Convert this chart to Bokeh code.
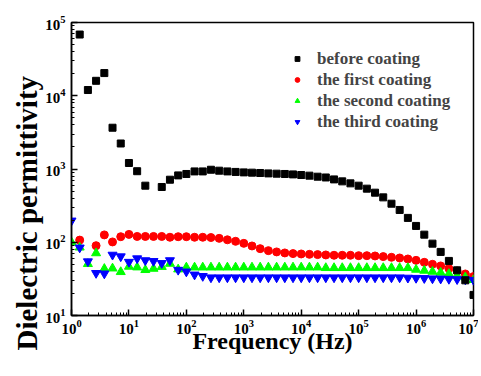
import math
from bokeh.plotting import figure
from bokeh.models import Legend, LegendItem, Title, ColumnDataSource
from bokeh.embed import file_html
from bokeh.resources import INLINE

nan = float("nan")

# Frequency (Hz), 7 points per decade
freq = [1, 1.39, 1.93, 2.68, 3.73, 5.18, 7.2,
        10, 13.9, 19.3, 26.8, 37.3, 51.8, 72,
        100, 139, 193, 268, 373, 518, 720,
        1000, 1390, 1930, 2680, 3730, 5180, 7200,
        1e4, 1.39e4, 1.93e4, 2.68e4, 3.73e4, 5.18e4, 7.2e4,
        1e5, 1.39e5, 1.93e5, 2.68e5, 3.73e5, 5.18e5, 7.2e5,
        1e6, 1.39e6, 1.93e6, 2.68e6, 3.73e6, 5.18e6, 7.2e6,
        1e7]

before_coating = [nan, 68500, 11970, 16000, 20400, 3660, 2230, 1208, 933, 592,
                  nan, 568, 714, 818, 855, 927, 927, 977, 948, 927,
                  912, 899, 891, 882, 871, 863, 855, 844, 828, 811,
                  785, 766, 721, 678, 637, 592, 539, 475, 410, 336,
                  276, 215, 167, 127, 95.7, 73.8, 55.6, 41.4, 30.2, 19.1]

first_coating = [nan, 107, nan, 89.8, 126, 101, 119, 128, 120, 120,
                 120, 120, 117, 119, 119, 117, 117, 116, 113, 108,
                 103, 96.6, 89, 81.8, 76.8, 73.8, 71.5, 70, 69.2, 68.4,
                 67.8, 67.1, 66.4, 66.4, 66.4, 65.6, 65.6, 65, 63.7, 62.3,
                 61, 59.1, 56.6, 53.2, 50, 47.5, 43.7, 40.6, 36.9, 34]

second_coating = [100, 85, 50.6, 71, 43.4, 44, 39.3, 46.5, 45.5, 41.9,
                  43.6, 46.2, 51, 42.7, 45.4, 45.4, 45.4, 45.4, 45.4, 45.4,
                  45.4, 45.4, 45.4, 45.4, 45.4, 45.4, 45.4, 45.4, 45.4, 45.4,
                  45.4, 44.6, 44.6, 44.6, 44.6, 44.6, 44.6, 44.6, 44.6, 44.6,
                  44.6, 44.6, 42.3, 41, 39.7, 38.5, 37, 35, 33.2, 30.6]

third_coating = [197, 84.4, 54.7, 37.9, 37.3, 67.3, 64, 53.8, 60.1, 56.6,
                 55.2, 51.8, 56.6, 41.9, 39.7, 36.1, 34.5, 33, 33, 33,
                 33, 33, 33, 33, 33, 33, 33, 33, 33, 33,
                 33, 33, 33, 33, 33, 33, 33, 33, 33, 33,
                 33, 32.7, 32.5, 32.3, 32, 31.8, 31.5, 31.2, 31, 30.5]

labels = ["before coating", "the first coating", "the second coating", "the third coating"]

FONT = "Liberation Serif"

p = figure(width=478, height=372, x_axis_type="log", y_axis_type="log",
           x_range=(1, 1e7), y_range=(10, 1e5),
           output_backend="svg", toolbar_location=None,
           min_border_left=71, min_border_right=5, min_border_top=22, min_border_bottom=57)

src = ColumnDataSource(dict(f=freq, b=before_coating, c1=first_coating,
                            c2=second_coating, c3=third_coating))

r1 = p.scatter("f", "c1", source=src, marker="circle", size=8, color="#ff0000")
r2 = p.scatter("f", "c2", source=src, marker="triangle", size=9, color="#00ff00")
r3 = p.scatter("f", "c3", source=src, marker="inverted_triangle", size=9, color="#0000ff")
r0 = p.scatter("f", "b", source=src, marker="square", size=7, color="black")

legend = Legend(items=[LegendItem(label=labels[0], renderers=[r0]),
                       LegendItem(label=labels[1], renderers=[r1]),
                       LegendItem(label=labels[2], renderers=[r2]),
                       LegendItem(label=labels[3], renderers=[r3])],
                location=(220, 183), padding=0, margin=0, spacing=0,
                glyph_width=12, glyph_height=21, label_height=21, label_standoff=14,
                label_text_font=FONT, label_text_font_style="bold", label_text_font_size="17px",
                border_line_color=None, background_fill_alpha=0)
p.add_layout(legend)

p.grid.visible = False
p.outline_line_color = "black"
p.outline_line_width = 1.5
p.outline_line_alpha = 1.0

for ax in (p.xaxis[0], p.yaxis[0]):
    ax.axis_line_width = 1.5
    ax.axis_line_color = "black"
    ax.major_tick_in = 6
    ax.major_tick_out = 0
    ax.minor_tick_in = 3
    ax.minor_tick_out = 0
    ax.major_tick_line_width = 1.5
    ax.minor_tick_line_width = 1
    ax.major_label_text_font = FONT
    ax.major_label_text_font_style = "bold"
    ax.major_label_text_font_size = "15px"
    ax.major_label_text_color = "black"

p.xaxis.axis_label = "Frequency (Hz)"
p.xaxis.axis_label_text_font = FONT
p.xaxis.axis_label_text_font_style = "bold"
p.xaxis.axis_label_text_font_size = "24px"
p.xaxis.axis_label_text_color = "black"
p.xaxis.axis_label_standoff = -9
p.xaxis.major_label_standoff = 4
p.yaxis.major_label_standoff = 6

ytitle = Title(text="Dielectric permittivity", align="left", offset=-35,
               text_font=FONT, text_font_style="bold", text_font_size="29px",
               text_color="black", standoff=0)
p.add_layout(ytitle, "left")

open("out.html", "w").write(file_html(p, INLINE))
